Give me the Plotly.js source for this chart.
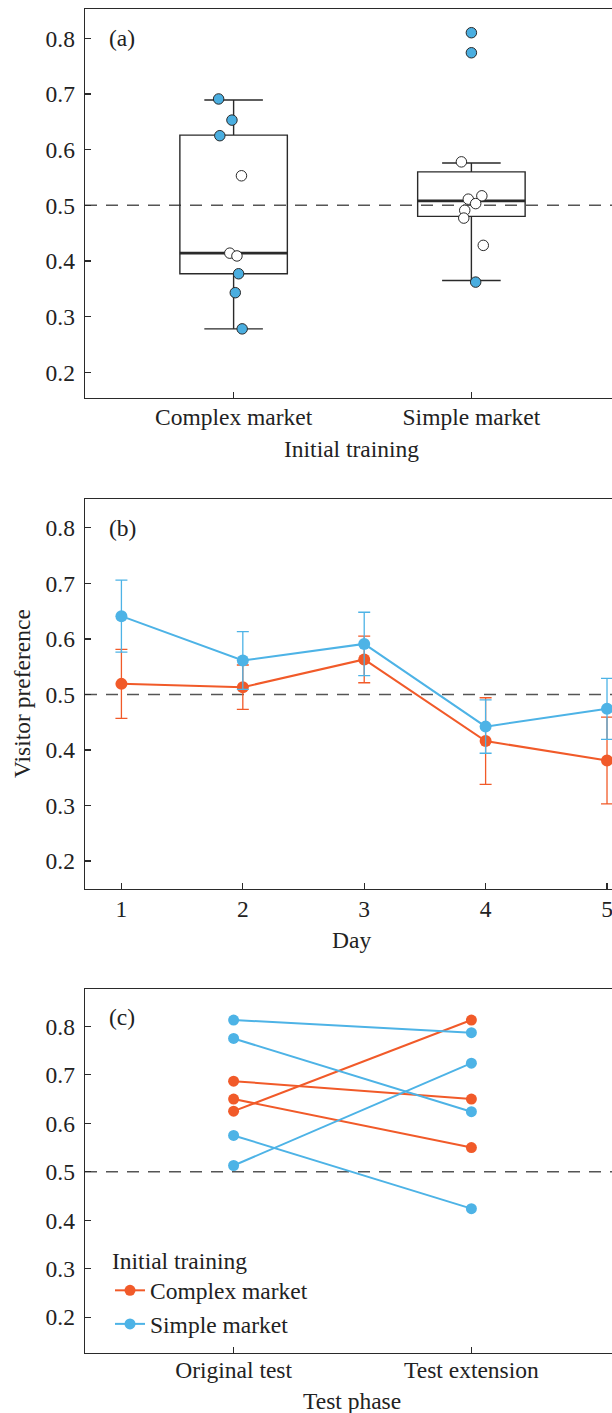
<!DOCTYPE html>
<html><head><meta charset="utf-8">
<script src="https://cdn.plot.ly/plotly-3.0.1.min.js"></script>
<style>html,body{margin:0;padding:0;overflow:hidden;background:#fff}#chart{width:640px;height:1413px}</style>
</head><body><div id="chart"></div>
<script>
// ---------- Panel (a): box plots ----------
const boxCategories = ['Complex market', 'Simple market'];
const boxQ1 = [0.377, 0.480];
const boxMedian = [0.414, 0.508];
const boxQ3 = [0.626, 0.560];
const boxLowerWhisker = [0.278, 0.365];
const boxUpperWhisker = [0.689, 0.576];

const complexPrefs = [0.691, 0.653, 0.625, 0.553, 0.414, 0.409, 0.377, 0.343, 0.278];
const complexJitter = [-0.063, -0.007, -0.058, 0.033, -0.016, 0.014, 0.021, 0.007, 0.036];
const complexHighlighted = [1, 1, 1, 0, 0, 0, 1, 1, 1];
const simplePrefs = [0.810, 0.774, 0.578, 0.517, 0.511, 0.503, 0.491, 0.477, 0.428, 0.362];
const simpleJitter = [0, 0, -0.042, 0.044, -0.013, 0.018, -0.028, -0.032, 0.050, 0.018];
const simpleHighlighted = [1, 1, 0, 0, 0, 0, 0, 0, 0, 1];

// ---------- Panel (b): daily means ----------
const days = [1, 2, 3, 4, 5];
const complexDaily = [0.519, 0.513, 0.563, 0.416, 0.381];
const complexDailyErr = [0.062, 0.040, 0.042, 0.078, 0.078];
const simpleDaily = [0.641, 0.561, 0.591, 0.442, 0.474];
const simpleDailyErr = [0.065, 0.052, 0.057, 0.048, 0.055];

// ---------- Panel (c): test phases ----------
const phases = ['Original test', 'Test extension'];
const complexOriginal = [0.687, 0.650, 0.625];
const complexExtension = [0.650, 0.550, 0.813];
const simpleOriginal = [0.813, 0.775, 0.575, 0.513];
const simpleExtension = [0.787, 0.624, 0.424, 0.724];

const chance = 0.5;
const ORANGE = '#F15A29', BLUE = '#4DB3E6', DARK = '#2a2a2a', FONT = 'Liberation Serif', FS = 23.5;
const BOX_W = 0.452;

const traces = [];
// Panel a
traces.push({
  type: 'box', x: [0, 1], q1: boxQ1, median: boxMedian, q3: boxQ3,
  lowerfence: boxLowerWhisker, upperfence: boxUpperWhisker,
  width: BOX_W, whiskerwidth: 0.545, boxpoints: false,
  fillcolor: 'rgba(0,0,0,0)', line: {color: DARK, width: 1.4},
  xaxis: 'x', yaxis: 'y', showlegend: false, hoverinfo: 'skip'
});
const medX = [], medY = [];
boxMedian.forEach((m, i) => { medX.push(i - BOX_W / 2, i + BOX_W / 2, null); medY.push(m, m, null); });
traces.push({type: 'scatter', mode: 'lines', x: medX, y: medY, line: {color: DARK, width: 2.8},
  xaxis: 'x', yaxis: 'y', showlegend: false, hoverinfo: 'skip'});
[[complexPrefs, complexJitter, complexHighlighted, 0], [simplePrefs, simpleJitter, simpleHighlighted, 1]].forEach(([vals, jit, hl, c]) => {
  traces.push({
    type: 'scatter', mode: 'markers', x: vals.map((v, i) => c + jit[i]), y: vals,
    marker: {size: 10.5, color: hl.map(h => h ? '#4AAEE0' : '#ffffff'), line: {color: DARK, width: 1}},
    xaxis: 'x', yaxis: 'y', showlegend: false, hoverinfo: 'skip'
  });
});
// Panel b
[[complexDaily, complexDailyErr, ORANGE], [simpleDaily, simpleDailyErr, BLUE]].forEach(([vals, err, col]) => {
  traces.push({
    type: 'scatter', mode: 'lines+markers', x: days, y: vals,
    error_y: {type: 'data', array: err, visible: true, color: col, thickness: 1.3, width: 6},
    line: {color: col, width: 2}, marker: {color: col, size: 12},
    xaxis: 'x2', yaxis: 'y2', showlegend: false, hoverinfo: 'skip'
  });
});
// Panel c
[['Complex market', complexOriginal, complexExtension, ORANGE, 1], ['Simple market', simpleOriginal, simpleExtension, BLUE, 2]].forEach(([name, o, e, col, rank]) => {
  o.forEach((v, i) => {
    traces.push({
      type: 'scatter', mode: 'lines+markers', x: [0, 1], y: [v, e[i]], name: name,
      legendgroup: name, showlegend: i === 0, legendrank: rank,
      line: {color: col, width: 2}, marker: {color: col, size: 11},
      xaxis: 'x3', yaxis: 'y3', hoverinfo: 'skip'
    });
  });
});

const W = 640, H = 1413;
const px = v => v / W, py = v => 1 - v / H;
const xDom = [px(85), px(620)];
const axBase = {
  showline: true, mirror: true, linecolor: DARK, linewidth: 1.4, showgrid: false, zeroline: false,
  ticks: 'inside', ticklen: 6, tickwidth: 1.2, tickcolor: DARK,
  tickfont: {family: FONT, size: FS, color: '#222'}, fixedrange: true
};
const yTicks = {tickvals: [0.2, 0.3, 0.4, 0.5, 0.6, 0.7, 0.8], ticktext: ['0.2', '0.3', '0.4', '0.5', '0.6', '0.7', '0.8'], ticklabelstandoff: 4};

const layout = {
  width: W, height: H, margin: {l: 0, r: 0, t: 0, b: 0},
  paper_bgcolor: '#fff', plot_bgcolor: '#fff',
  font: {family: FONT, size: FS, color: '#222'},
  xaxis: Object.assign({}, axBase, {domain: xDom, anchor: 'y', range: [-0.625, 1.625], tickvals: [0, 1], ticktext: boxCategories, ticklabelstandoff: -3}),
  yaxis: Object.assign({}, axBase, yTicks, {domain: [py(398), py(9)], anchor: 'x', range: [0.1538, 0.8526]}),
  xaxis2: Object.assign({}, axBase, {domain: xDom, anchor: 'y2', range: [0.7, 5.107], tickvals: days, ticktext: days.map(String), ticklabelstandoff: -2}),
  yaxis2: Object.assign({}, axBase, yTicks, {domain: [py(889), py(499)], anchor: 'x2', range: [0.1495, 0.852]}),
  xaxis3: Object.assign({}, axBase, {domain: xDom, anchor: 'y3', range: [-0.625, 1.625], tickvals: [0, 1], ticktext: phases, ticklabelstandoff: -5}),
  yaxis3: Object.assign({}, axBase, yTicks, {domain: [py(1353), py(989)], anchor: 'x3', range: [0.1263, 0.877]}),
  shapes: ['y', 'y2', 'y3'].map((ya, i) => ({
    type: 'line', xref: ['x', 'x2', 'x3'][i] + ' domain', yref: ya, x0: 0, x1: 1, y0: chance, y1: chance,
    line: {color: '#555', width: 1.5, dash: '12px,9px'}, layer: 'below'
  })),
  annotations: [
    {text: '(a)', xref: 'paper', yref: 'paper', x: px(107), y: py(38), xanchor: 'left', yanchor: 'middle', showarrow: false},
    {text: '(b)', xref: 'paper', yref: 'paper', x: px(107), y: py(528), xanchor: 'left', yanchor: 'middle', showarrow: false},
    {text: '(c)', xref: 'paper', yref: 'paper', x: px(107), y: py(1017), xanchor: 'left', yanchor: 'middle', showarrow: false},
    {text: 'Initial training', xref: 'paper', yref: 'paper', x: px(351), y: py(449), xanchor: 'center', yanchor: 'middle', showarrow: false},
    {text: 'Day', xref: 'paper', yref: 'paper', x: px(351), y: py(940), xanchor: 'center', yanchor: 'middle', showarrow: false},
    {text: 'Test phase', xref: 'paper', yref: 'paper', x: px(352), y: py(1401), xanchor: 'center', yanchor: 'middle', showarrow: false},
    {text: 'Visitor preference', xref: 'paper', yref: 'paper', x: px(22), y: py(694), xanchor: 'center', yanchor: 'middle', textangle: -90, showarrow: false}
  ],
  legend: {
    x: px(110), y: py(1238), xanchor: 'left', yanchor: 'top', bgcolor: 'rgba(0,0,0,0)',
    font: {family: FONT, size: FS, color: '#222'}, title: {text: 'Initial training', font: {family: FONT, size: FS, color: '#222'}},
    tracegroupgap: 0, traceorder: 'normal'
  },
  showlegend: true
};
Plotly.newPlot('chart', traces, layout, {staticPlot: true, displayModeBar: false});
</script>
</body></html>
